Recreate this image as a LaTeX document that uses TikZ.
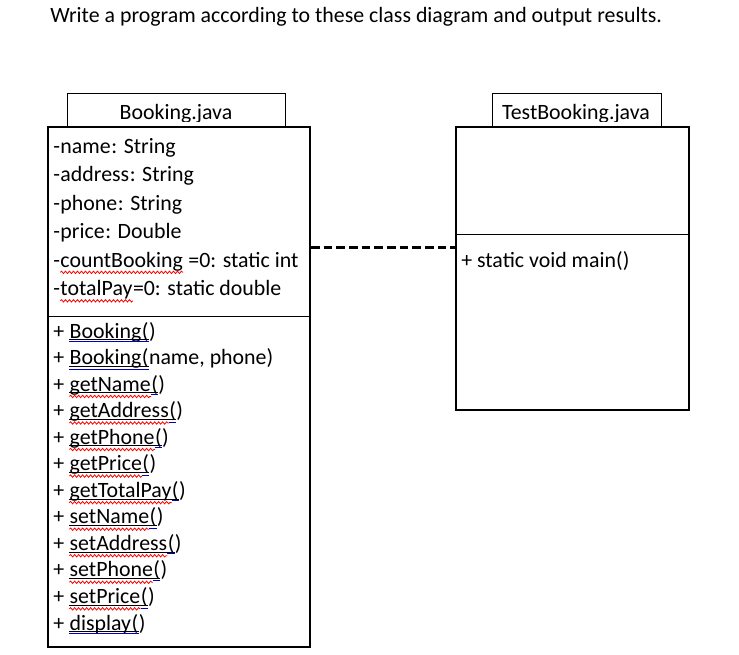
\documentclass[tikz,border=0pt]{standalone}
\usepackage{fontspec}
\setmainfont{Carlito}
\usepackage{xcolor}
\usetikzlibrary{fit, decorations.pathmorphing}

\begin{document}
\begin{tikzpicture}[
    x=0.75pt, y=-0.75pt,
    every node/.style={font=\fontsize{16.4}{19}\selectfont},
    classbox/.style={rectangle, draw=black, line width=1.5pt, inner sep=0pt},
    tabbox/.style={rectangle, draw=black, line width=0.75pt, inner sep=0pt},
    member/.style={anchor=base west, inner sep=0pt},
    tabtext/.style={anchor=base, inner sep=0pt},
    divider/.style={line width=0.75pt},
    dep/.style={line width=2.25pt, dash pattern=on 6.5pt off 3pt},
    uline/.style={line width=0.6pt},
    spellwave/.style={line width=0.6pt, decorate, decoration={snake, segment length=3pt, amplitude=0.9pt}},
    gramline/.style={draw=blue!75!black, double=white, double distance=0.6pt, line width=0.45pt}
]
\useasboundingbox (0,0) rectangle (739,654);

% ============== Enunciado ==============
\node[member] (title) at (50,22) {Write a program according to these class diagram and output results.};

% ============== Booking.java ==============
\node[tabbox, fit={(67,93) (285,127)}] (bktab) {};
\begin{scope}
\clip (67,93) rectangle (285,121);
\node[tabtext] (bkname) at (176,119) {Booking.java};
\end{scope}
\node[classbox, fit={(48,127) (310,647)}] (booking) {};
\coordinate (bkdiv) at (0,316);
\draw[divider] (booking.west |- bkdiv) -- (booking.east |- bkdiv);

% atributos: nombre / resto / color de la marca ortografica
\foreach \nm/\post/\wv [count=\i from 0] in {
    name/{: String}/none,
    address/{: String}/none,
    phone/{: String}/none,
    price/{: Double}/none,
    countBooking/{\ =0: static int}/red,
    totalPay/{=0: static double}/red}{
  \node[member] (dash\i) at (53,{153+28.5*\i}) {-};
  \node[member] (attr\i) at (dash\i.base east) {\nm};
  \node[member] (atrest\i) at (attr\i.base east) {\post};
  \draw[spellwave, draw=\wv] ([yshift=-4pt]attr\i.base west) -- ([yshift=-4pt]attr\i.base east);
}

% metodos: nombre / resto / marca ortografica / inicio de la marca azul
\foreach \nm/\post/\wv/\bl [count=\i from 0] in {
    Booking/)/none/meth,
    Booking/{name, phone)}/none/meth,
    getName/)/red/open,
    getAddress/)/red/open,
    getPhone/)/red/open,
    getPrice/)/red/open,
    getTotalPay/)/red/open,
    setName/)/red/open,
    setAddress/)/red/open,
    setPhone/)/red/open,
    setPrice/)/red/open,
    display/)/none/meth}{
  \node[member] (plus\i) at (53,{338+26.55*\i}) {+\kern0.226em};
  \node[member] (meth\i) at (plus\i.base east) {\nm};
  \node[member] (open\i) at (meth\i.base east) {(};
  \node[member] (rest\i) at (open\i.base east) {\post};
  \draw[uline] ([yshift=-1.2pt]meth\i.base west) -- ([yshift=-1.2pt]open\i.base east);
  \draw[spellwave, draw=\wv] ([yshift=-4pt]meth\i.base west) -- ([yshift=-4pt]meth\i.base east);
  \draw[gramline] ([yshift=-3pt]\bl\i.base west) -- ([yshift=-3pt]open\i.base east);
}

% ============== TestBooking.java ==============
\node[tabbox, fit={(492,93) (661,127)}] (tbtab) {};
\begin{scope}
\clip (492,93) rectangle (661,121);
\node[tabtext] (tbname) at (576,119) {TestBooking.java};
\end{scope}
\node[classbox, fit={(456,127) (689,410)}] (test) {};
\coordinate (tbdiv) at (0,234);
\draw[divider] (test.west |- tbdiv) -- (test.east |- tbdiv);
\node[member] (main) at (461,267) {+ static void main()};

% ============== Dependencia ==============
\coordinate (depy) at (383,247);
\draw[dep] (booking.east |- depy) -- (test.west |- depy);
\end{tikzpicture}
\end{document}
